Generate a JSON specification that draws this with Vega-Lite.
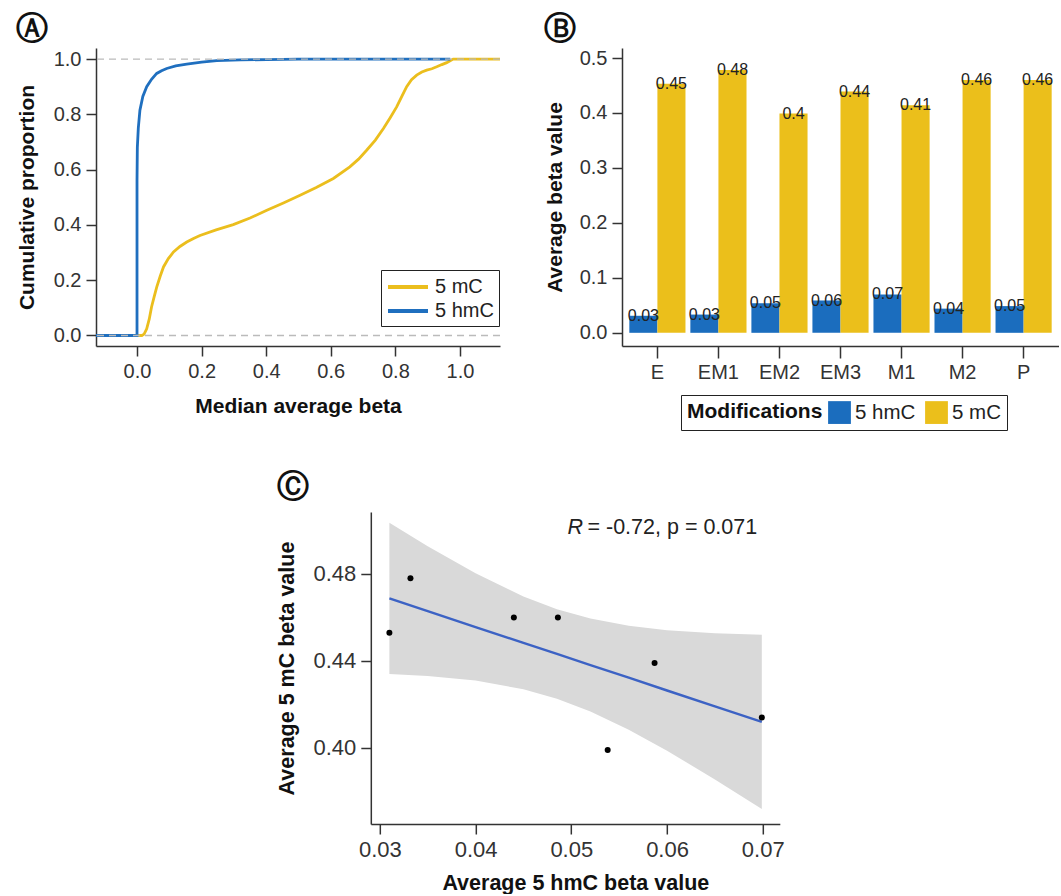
{
  "$schema": "https://vega.github.io/schema/vega-lite/v6.json",
  "padding": {"left": 16, "top": 13, "right": 0, "bottom": 0},
  "config": {
    "font": "Liberation Sans",
    "view": {"stroke": null},
    "axis": {"domainColor": "#333", "domainWidth": 1.5, "tickColor": "#333", "tickWidth": 1.5, "tickSize": 10, "labelFontSize": 20, "labelColor": "#333", "titleFontSize": 21, "titleFontWeight": "bold", "titleColor": "#111", "grid": false, "labelFont": "Liberation Sans", "titleFont": "Liberation Sans", "labelPadding": 5, "titlePadding": 14},
    "title": {"font": "DejaVu Sans", "fontSize": 32, "fontWeight": "bold", "anchor": "start", "frame": "bounds", "color": "#111"}
  },
  "datasets": {
    "ecdf": [
      {"mod": "5 mC", "beta": -0.127, "prop": 0},
      {"mod": "5 mC", "beta": 0.015, "prop": 0},
      {"mod": "5 mC", "beta": 0.022, "prop": 0.005},
      {"mod": "5 mC", "beta": 0.030, "prop": 0.024},
      {"mod": "5 mC", "beta": 0.038, "prop": 0.06},
      {"mod": "5 mC", "beta": 0.045, "prop": 0.103},
      {"mod": "5 mC", "beta": 0.053, "prop": 0.14},
      {"mod": "5 mC", "beta": 0.061, "prop": 0.175},
      {"mod": "5 mC", "beta": 0.072, "prop": 0.215},
      {"mod": "5 mC", "beta": 0.082, "prop": 0.248},
      {"mod": "5 mC", "beta": 0.097, "prop": 0.278},
      {"mod": "5 mC", "beta": 0.113, "prop": 0.302},
      {"mod": "5 mC", "beta": 0.133, "prop": 0.322},
      {"mod": "5 mC", "beta": 0.154, "prop": 0.338},
      {"mod": "5 mC", "beta": 0.175, "prop": 0.351},
      {"mod": "5 mC", "beta": 0.195, "prop": 0.362},
      {"mod": "5 mC", "beta": 0.245, "prop": 0.382},
      {"mod": "5 mC", "beta": 0.298, "prop": 0.401},
      {"mod": "5 mC", "beta": 0.350, "prop": 0.425},
      {"mod": "5 mC", "beta": 0.402, "prop": 0.453},
      {"mod": "5 mC", "beta": 0.455, "prop": 0.48},
      {"mod": "5 mC", "beta": 0.505, "prop": 0.507},
      {"mod": "5 mC", "beta": 0.555, "prop": 0.535},
      {"mod": "5 mC", "beta": 0.608, "prop": 0.568},
      {"mod": "5 mC", "beta": 0.659, "prop": 0.61},
      {"mod": "5 mC", "beta": 0.686, "prop": 0.638},
      {"mod": "5 mC", "beta": 0.711, "prop": 0.67},
      {"mod": "5 mC", "beta": 0.738, "prop": 0.707},
      {"mod": "5 mC", "beta": 0.763, "prop": 0.749},
      {"mod": "5 mC", "beta": 0.784, "prop": 0.788},
      {"mod": "5 mC", "beta": 0.804, "prop": 0.827},
      {"mod": "5 mC", "beta": 0.820, "prop": 0.865},
      {"mod": "5 mC", "beta": 0.835, "prop": 0.9},
      {"mod": "5 mC", "beta": 0.850, "prop": 0.925},
      {"mod": "5 mC", "beta": 0.866, "prop": 0.942},
      {"mod": "5 mC", "beta": 0.882, "prop": 0.953},
      {"mod": "5 mC", "beta": 0.897, "prop": 0.96},
      {"mod": "5 mC", "beta": 0.913, "prop": 0.965},
      {"mod": "5 mC", "beta": 0.928, "prop": 0.972},
      {"mod": "5 mC", "beta": 0.944, "prop": 0.98},
      {"mod": "5 mC", "beta": 0.959, "prop": 0.987},
      {"mod": "5 mC", "beta": 0.979, "prop": 1.0},
      {"mod": "5 mC", "beta": 1.124, "prop": 1.0},
      {"mod": "5 hmC", "beta": -0.127, "prop": 0},
      {"mod": "5 hmC", "beta": 0, "prop": 0},
      {"mod": "5 hmC", "beta": 0, "prop": 0.56},
      {"mod": "5 hmC", "beta": 0.001, "prop": 0.68},
      {"mod": "5 hmC", "beta": 0.004, "prop": 0.75},
      {"mod": "5 hmC", "beta": 0.009, "prop": 0.815},
      {"mod": "5 hmC", "beta": 0.018, "prop": 0.865},
      {"mod": "5 hmC", "beta": 0.030, "prop": 0.9},
      {"mod": "5 hmC", "beta": 0.045, "prop": 0.927},
      {"mod": "5 hmC", "beta": 0.061, "prop": 0.948},
      {"mod": "5 hmC", "beta": 0.076, "prop": 0.958},
      {"mod": "5 hmC", "beta": 0.092, "prop": 0.966},
      {"mod": "5 hmC", "beta": 0.120, "prop": 0.975},
      {"mod": "5 hmC", "beta": 0.154, "prop": 0.982},
      {"mod": "5 hmC", "beta": 0.200, "prop": 0.989},
      {"mod": "5 hmC", "beta": 0.247, "prop": 0.994},
      {"mod": "5 hmC", "beta": 0.320, "prop": 0.997},
      {"mod": "5 hmC", "beta": 0.402, "prop": 0.998},
      {"mod": "5 hmC", "beta": 0.500, "prop": 1.0},
      {"mod": "5 hmC", "beta": 0.970, "prop": 1.0}
    ],
    "hlines": [{"prop": 0}, {"prop": 1}],
    "bars": [
      {"sample": "E", "mod": "5 hmC", "value": 0.031},
      {"sample": "E", "mod": "5 mC", "value": 0.453},
      {"sample": "EM1", "mod": "5 hmC", "value": 0.0332},
      {"sample": "EM1", "mod": "5 mC", "value": 0.478},
      {"sample": "EM2", "mod": "5 hmC", "value": 0.0538},
      {"sample": "EM2", "mod": "5 mC", "value": 0.399},
      {"sample": "EM3", "mod": "5 hmC", "value": 0.0587},
      {"sample": "EM3", "mod": "5 mC", "value": 0.439},
      {"sample": "M1", "mod": "5 hmC", "value": 0.0699},
      {"sample": "M1", "mod": "5 mC", "value": 0.414},
      {"sample": "M2", "mod": "5 hmC", "value": 0.044},
      {"sample": "M2", "mod": "5 mC", "value": 0.46},
      {"sample": "P", "mod": "5 hmC", "value": 0.0486},
      {"sample": "P", "mod": "5 mC", "value": 0.46}
    ],
    "scatter": [
      {"sample": "E", "hmC": 0.031, "mC": 0.453},
      {"sample": "EM1", "hmC": 0.0332, "mC": 0.478},
      {"sample": "EM2", "hmC": 0.0538, "mC": 0.399},
      {"sample": "EM3", "hmC": 0.0587, "mC": 0.439},
      {"sample": "M1", "hmC": 0.0699, "mC": 0.414},
      {"sample": "M2", "hmC": 0.044, "mC": 0.46},
      {"sample": "P", "hmC": 0.0486, "mC": 0.46}
    ],
    "band": [
      {"x": 0.031, "fit": 0.4688, "lo": 0.4340, "hi": 0.5035},
      {"x": 0.035, "fit": 0.4629, "lo": 0.4331, "hi": 0.4928},
      {"x": 0.040, "fit": 0.4556, "lo": 0.4310, "hi": 0.4803},
      {"x": 0.045, "fit": 0.4483, "lo": 0.4270, "hi": 0.4696},
      {"x": 0.0485, "fit": 0.4432, "lo": 0.4226, "hi": 0.4638},
      {"x": 0.052, "fit": 0.4381, "lo": 0.4168, "hi": 0.4595},
      {"x": 0.056, "fit": 0.4323, "lo": 0.4084, "hi": 0.4562},
      {"x": 0.060, "fit": 0.4264, "lo": 0.3987, "hi": 0.4541},
      {"x": 0.065, "fit": 0.4191, "lo": 0.3855, "hi": 0.4527},
      {"x": 0.0699, "fit": 0.4120, "lo": 0.3719, "hi": 0.4521}
    ],
    "stat": [{"x": 0.0496, "y": 0.5011, "r": "R", "rest": "= -0.72, p = 0.071"}]
  },
  "vconcat": [
    {
      "hconcat": [
        {
          "title": {"text": "Ⓐ", "offset": 2},
          "width": 404,
          "height": 298,
          "layer": [
            {
              "data": {"name": "ecdf"},
              "mark": {"type": "line", "strokeWidth": 2.8, "clip": true},
              "encoding": {
                "x": {"field": "beta", "type": "quantitative", "scale": {"domain": [-0.127, 1.124], "nice": false, "zero": false}, "axis": {"values": [0, 0.2, 0.4, 0.6, 0.8, 1.0], "format": ".1f", "title": "Median average beta"}},
                "y": {"field": "prop", "type": "quantitative", "scale": {"domain": [-0.038, 1.04], "nice": false, "zero": false}, "axis": {"values": [0, 0.2, 0.4, 0.6, 0.8, 1.0], "format": ".1f", "title": "Cumulative proportion", "titlePadding": 16}},
                "color": {"field": "mod", "type": "nominal", "scale": {"domain": ["5 mC", "5 hmC"], "range": ["#EBBE1D", "#1F6FBF"]}, "legend": {"title": null, "orient": "none", "legendX": 285, "legendY": 222, "strokeColor": "#222", "fillColor": "white", "padding": 5, "symbolType": "M-1,0H3", "symbolStrokeWidth": 4, "symbolSize": 400, "labelFontSize": 20, "labelColor": "#222", "rowPadding": 2, "labelOffset": 25}},
                "order": [{"field": "beta", "type": "quantitative"}, {"field": "prop", "type": "quantitative"}]
              }
            },
            {
              "data": {"name": "hlines"},
              "mark": {"type": "rule", "color": "#bbbbbb", "strokeDash": [7, 5], "strokeWidth": 1.3},
              "encoding": {"y": {"field": "prop", "type": "quantitative"}}
            }
          ]
        },
        {
          "title": {"text": "Ⓑ", "offset": 2},
          "width": 437,
          "height": 298,
          "data": {"name": "bars"},
          "encoding": {
            "x": {"field": "sample", "type": "nominal", "scale": {"paddingInner": 0.08, "paddingOuter": 0.12}, "axis": {"labelAngle": 0, "title": null, "tickSize": 12, "labelPadding": 4}},
            "xOffset": {"field": "mod", "type": "nominal", "scale": {"domain": ["5 hmC", "5 mC"], "paddingInner": 0, "paddingOuter": 0}},
            "y": {"field": "value", "type": "quantitative", "scale": {"domain": [-0.024, 0.5182], "nice": false, "zero": false}, "axis": {"values": [0, 0.1, 0.2, 0.3, 0.4, 0.5], "format": ".1f", "title": "Average beta value", "titlePadding": 14}}
          },
          "layer": [
            {
              "mark": {"type": "bar"},
              "encoding": {
                "y2": {"datum": 0},
                "color": {"field": "mod", "type": "nominal", "scale": {"domain": ["5 hmC", "5 mC"], "range": ["#1B6DBE", "#EBBF1B"]}, "legend": {"title": "Modifications", "orient": "none", "legendX": 59, "legendY": 347, "direction": "horizontal", "titleOrient": "left", "strokeColor": "#222", "padding": 6, "symbolType": "square", "symbolSize": 520, "symbolStrokeWidth": 0, "symbolOpacity": 1, "labelFontSize": 20.5, "titleFontSize": 21, "titleFontWeight": "bold", "labelColor": "#222", "titleColor": "#111", "columnPadding": 9, "labelOffset": 4, "titlePadding": 5}}
              }
            },
            {
              "mark": {"type": "text", "baseline": "middle", "fontSize": 16, "color": "#222", "clip": true},
              "encoding": {"text": {"field": "value", "type": "quantitative", "format": ".2~f"}}
            }
          ]
        }
      ],
      "spacing": 43,
      "resolve": {"scale": {"color": "independent"}, "legend": {"color": "independent"}}
    },
    {
      "title": {"text": "Ⓒ", "offset": 8},
      "width": 409,
      "height": 312,
      "layer": [
        {
          "data": {"name": "band"},
          "mark": {"type": "area", "color": "#d9d9d9", "opacity": 1},
          "encoding": {
            "x": {"field": "x", "type": "quantitative", "scale": {"domain": [0.02906, 0.07178], "nice": false, "zero": false}, "axis": {"values": [0.03, 0.04, 0.05, 0.06, 0.07], "format": ".2f", "title": "Average 5 hmC beta value", "labelPadding": 5, "titlePadding": 12, "labelFontSize": 22, "titleFontSize": 21.5}},
            "y": {"field": "lo", "type": "quantitative", "scale": {"domain": [0.365, 0.5085], "nice": false, "zero": false}, "axis": {"values": [0.40, 0.44, 0.48], "format": ".2f", "title": "Average 5 mC beta value", "titlePadding": 14, "labelFontSize": 22, "titleFontSize": 21.5}},
            "y2": {"field": "hi"}
          }
        },
        {
          "data": {"name": "band"},
          "mark": {"type": "line", "color": "#3C62C4", "strokeWidth": 2.4},
          "encoding": {
            "x": {"field": "x", "type": "quantitative"},
            "y": {"field": "fit", "type": "quantitative"}
          }
        },
        {
          "data": {"name": "scatter"},
          "mark": {"type": "circle", "color": "#000000", "size": 36, "opacity": 1},
          "encoding": {
            "x": {"field": "hmC", "type": "quantitative"},
            "y": {"field": "mC", "type": "quantitative"}
          }
        },
        {
          "data": {"name": "stat"},
          "mark": {"type": "text", "align": "left", "baseline": "middle", "fontSize": 21.5, "fontStyle": "italic", "color": "#222"},
          "encoding": {
            "x": {"field": "x", "type": "quantitative"},
            "y": {"field": "y", "type": "quantitative"},
            "text": {"field": "r"}
          }
        },
        {
          "data": {"name": "stat"},
          "mark": {"type": "text", "align": "left", "baseline": "middle", "fontSize": 21.5, "color": "#222", "dx": 20},
          "encoding": {
            "x": {"field": "x", "type": "quantitative"},
            "y": {"field": "y", "type": "quantitative"},
            "text": {"field": "rest"}
          }
        }
      ]
    }
  ],
  "spacing": 40,
  "center": true
}
